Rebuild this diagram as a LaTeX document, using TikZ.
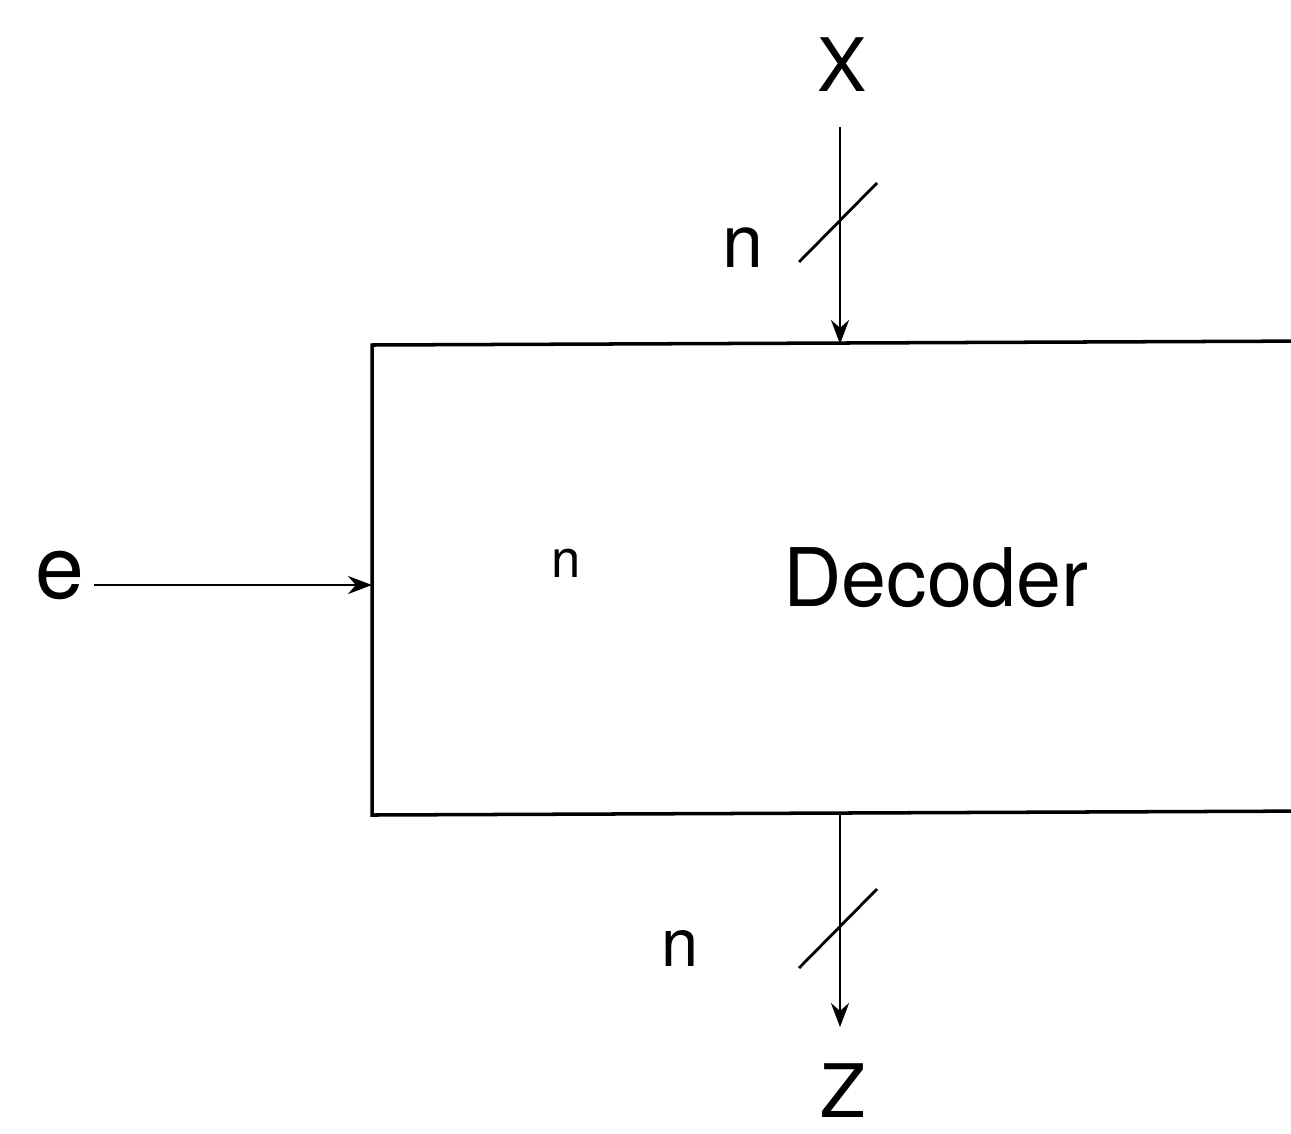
\documentclass[tikz,border=0pt]{standalone}
\usepackage{fontspec}
\setmainfont{TeX Gyre Heros}
\usetikzlibrary{arrows.meta,positioning,calc}

\begin{document}
\begin{tikzpicture}[
    >={Stealth[length=2.4mm,width=1.8mm]},
    sig/.style={->, line width=0.7pt},
    bus slash/.style={line width=0.8pt},
    box line/.style={line width=1pt},
    lbl/.style={inner sep=0pt, outer sep=0pt},
]
\useasboundingbox (0,0) rectangle (12.91,11.33);

% === Decoder block (open to the right) ===
\coordinate (tl) at (3.72,7.88);
\coordinate (bl) at (3.72,3.18);
\draw[box line] (13.2,7.92) -- (tl) -- (bl) -- (13.2,3.22);
\node[lbl, font=\fontsize{23}{27}\selectfont] (dec) at (9.36,5.55) {Decoder};
\node[lbl, font=\fontsize{15}{18}\selectfont] (nin) at (5.66,5.70) {n};

% === Input e ===
\node[lbl, font=\fontsize{25}{29}\selectfont] (e) at (0.60,5.58) {e};
\coordinate (ein) at (3.72,5.48);
\draw[sig] (e.east |- ein) ++(0.1,0) -- (ein);

% === Input X (n bits) ===
\node[lbl, font=\fontsize{21}{25}\selectfont] (X) at (8.42,10.68) {X};
\coordinate (xin) at (8.40,7.89);
\draw[sig, shorten <=0.35cm] (X.south -| xin) -- (xin);
\draw[bus slash] (7.99,8.71) -- (8.77,9.50);
\node[lbl, font=\fontsize{21}{25}\selectfont] (nx) at (7.43,8.85) {n};

% === Output Z (n bits) ===
\node[lbl, font=\fontsize{21}{25}\selectfont] (Z) at (8.43,0.42) {Z};
\coordinate (zout) at (8.40,3.20);
\draw[sig, shorten >=0.37cm] (zout) -- (Z.north -| zout);
\draw[bus slash] (7.99,1.65) -- (8.77,2.44);
\node[lbl, font=\fontsize{19}{23}\selectfont] (nz) at (6.80,1.85) {n};

\end{tikzpicture}
\end{document}
